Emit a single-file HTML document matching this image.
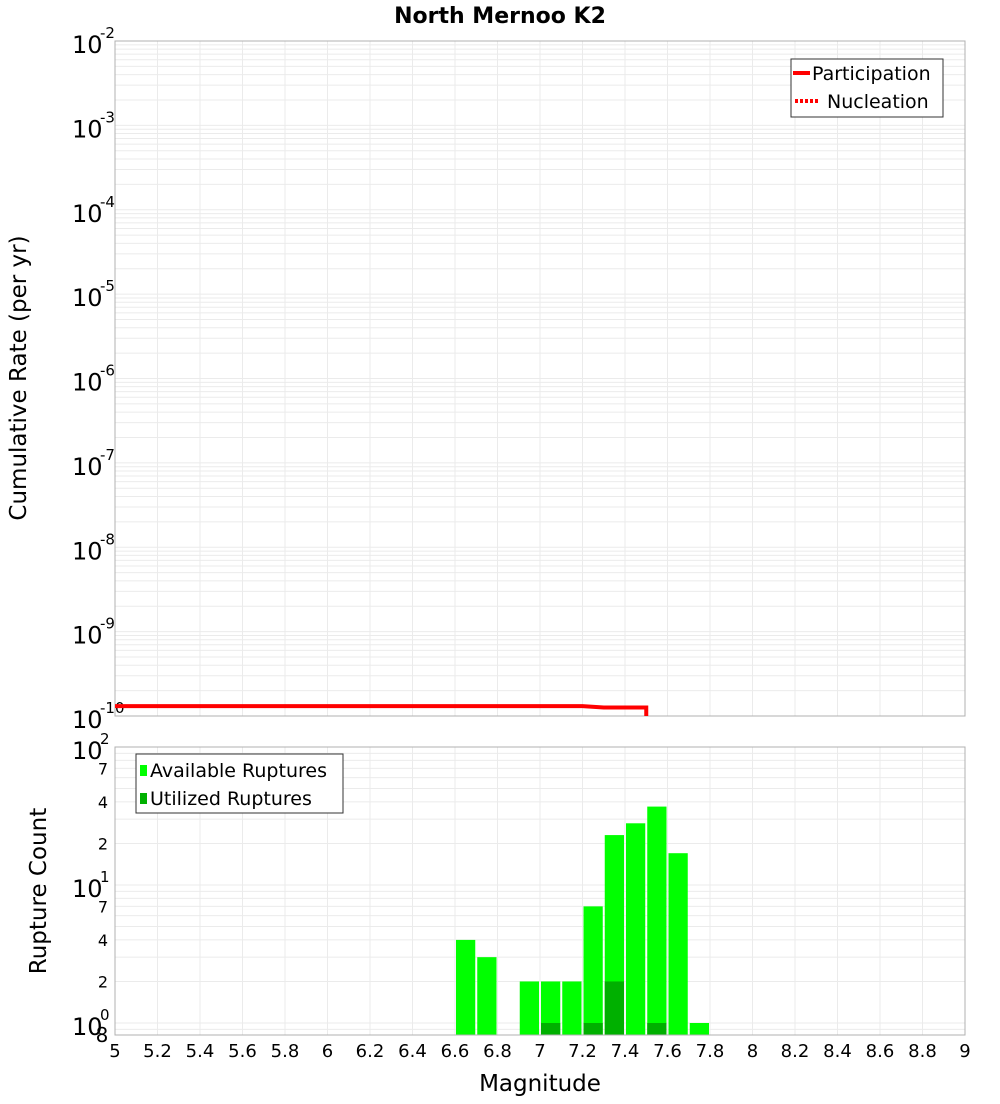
<!DOCTYPE html>
<html><head><meta charset="utf-8"><style>
body{margin:0;background:#fff;font-family:"DejaVu Sans","Liberation Sans",sans-serif}
svg text{font-family:"DejaVu Sans","Liberation Sans",sans-serif}
</style></head><body>
<svg id="c" width="1000" height="1100" xmlns="http://www.w3.org/2000/svg">
<rect width="1000" height="1100" fill="#fff"/>
<text x="500" y="23" text-anchor="middle" font-size="22" font-weight="bold">North Mernoo K2</text>
<g id="gtop"></g><g id="gbot"></g>
<text transform="translate(26,378) rotate(-90)" text-anchor="middle" font-size="23">Cumulative Rate (per yr)</text>
<text transform="translate(46,891) rotate(-90)" text-anchor="middle" font-size="23">Rupture Count</text>
<text x="540" y="1091" text-anchor="middle" font-size="23">Magnitude</text>
</svg>
<script>
const rateMags=[5,7.2,7.3,7.5,7.5];
const rateVals=[1.31e-10,1.31e-10,1.26e-10,1.26e-10,1e-10];
const binMags=[6.6,6.7,6.9,7.0,7.1,7.2,7.3,7.4,7.5,7.6,7.7];
const availCounts=[4,3,2,2,2,7,23,28,37,17,1];
const usedMags=[7.0,7.2,7.3,7.5];
const usedCounts=[1,1,2,1];
const xTicks=[5,5.2,5.4,5.6,5.8,6,6.2,6.4,6.6,6.8,7,7.2,7.4,7.6,7.8,8,8.2,8.4,8.6,8.8,9];

const NS='http://www.w3.org/2000/svg';
const svgEl=document.getElementById('c');
function mk(tag,at,parent){const e=document.createElementNS(NS,tag);for(const k in at)e.setAttribute(k,at[k]);(parent||svgEl).appendChild(e);return e;}
const L=115,R=965;
const xs=m=>L+(m-5)/4*(R-L);
const T0=41,T1=716;
const yT=v=>T0+(-2-Math.log10(v))/8*(T1-T0);
const B0=747,BD=138;
const yB=v=>B0+(2-Math.log10(v))*BD;
const B1=1035;
const gTop=document.getElementById('gtop'),gBot=document.getElementById('gbot');

for(let e=-10;e<-2;e++)for(let k=1;k<10;k++){const y=yT(k*Math.pow(10,e));
 const g=mk('line',{x1:L,x2:R,y1:y,y2:y,stroke:'#ebebeb','stroke-width':1},gTop);
 
 }
for(const t of xTicks){const g=mk('line',{x1:xs(t),x2:xs(t),y1:T0,y2:T1,stroke:'#ebebeb'},gTop);
 
 }
const fr=mk('rect',{x:L,y:T0,width:R-L,height:T1-T0,fill:'none',stroke:'#b0b0b0'},gTop);


for(let e=-10;e<=-2;e++){const y=yT(Math.pow(10,e));
 const t=mk('text',{x:72,y:y+12,'font-size':24},gTop);t.textContent='10';
 
 
 const s=mk('text',{x:100,y:y-3,'font-size':15},gTop);s.textContent=String(e);
 
 }
const pts=rateMags.map((m,i)=>xs(m)+','+yT(rateVals[i])).join(' ');
const pl=mk('polyline',{points:pts,fill:'none',stroke:'#ff0000','stroke-width':4},gTop);


const lg=mk('g',{},gTop);


mk('rect',{x:791,y:59,width:152,height:58,fill:'#fff',stroke:'#333'},lg);
mk('line',{x1:793,x2:810,y1:73,y2:73,stroke:'#f00','stroke-width':4},lg);
mk('line',{x1:795,x2:820,y1:101,y2:101,stroke:'#f00','stroke-width':4,'stroke-dasharray':'3,2'},lg);
let t1=mk('text',{x:812,y:80,'font-size':19},lg);t1.textContent='Participation';
let t2=mk('text',{x:827,y:108,'font-size':19},lg);t2.textContent='Nucleation';

for(let e=-1;e<2;e++)for(let k=1;k<10;k++){const v=k*Math.pow(10,e);const y=yB(v);if(y>B1||y<B0)continue;
 const g=mk('line',{x1:L,x2:R,y1:y,y2:y,stroke:'#ebebeb'},gBot);
 
 }
for(const t of xTicks){const g=mk('line',{x1:xs(t),x2:xs(t),y1:B0,y2:B1,stroke:'#ebebeb'},gBot);
 
 }
binMags.forEach((m,i)=>{const y=yB(availCounts[i]);
 const b=mk('rect',{x:xs(m)+1,y:y,width:xs(m+0.1)-xs(m)-2,height:B1-y,fill:'#00ff00'},gBot);
 
 });
usedMags.forEach((m,i)=>{const y=yB(usedCounts[i]);
 const b=mk('rect',{x:xs(m)+1,y:y,width:xs(m+0.1)-xs(m)-2,height:B1-y,fill:'#00b000'},gBot);
 
 });
const fb=mk('rect',{x:L,y:B0,width:R-L,height:B1-B0,fill:'none',stroke:'#b0b0b0'},gBot);


for(let e=0;e<=2;e++){const y=yB(Math.pow(10,e));
 const t=mk('text',{x:72,y:y+12,'font-size':24},gBot);t.textContent='10';
 
 
 const s=mk('text',{x:100,y:y-3,'font-size':15},gBot);s.textContent=String(e);
 
 
 if(e<2)for(const k of [2,4,7]){const yy=yB(k*Math.pow(10,e));
  const m=mk('text',{x:103,y:yy+6,'font-size':16,'text-anchor':'middle'},gBot);m.textContent=String(k);
  
  }}
const e8=mk('text',{x:102,y:1042,'font-size':20,'text-anchor':'middle'},gBot);e8.textContent='8';


for(const t of xTicks){const tx=mk('text',{x:xs(t),y:1057,'font-size':18,'text-anchor':'middle'},gBot);
 tx.textContent=String(t);
 
 }
const lb=mk('g',{},gBot);


mk('rect',{x:136,y:754,width:207,height:59,fill:'#fff',stroke:'#333'},lb);
mk('rect',{x:140,y:765,width:7,height:11,fill:'#00ff00'},lb);
mk('rect',{x:140,y:793,width:7,height:11,fill:'#00b000'},lb);
let t3=mk('text',{x:150,y:777,'font-size':19},lb);t3.textContent='Available Ruptures';
let t4=mk('text',{x:150,y:805,'font-size':19},lb);t4.textContent='Utilized Ruptures';
</script>
</body></html>
